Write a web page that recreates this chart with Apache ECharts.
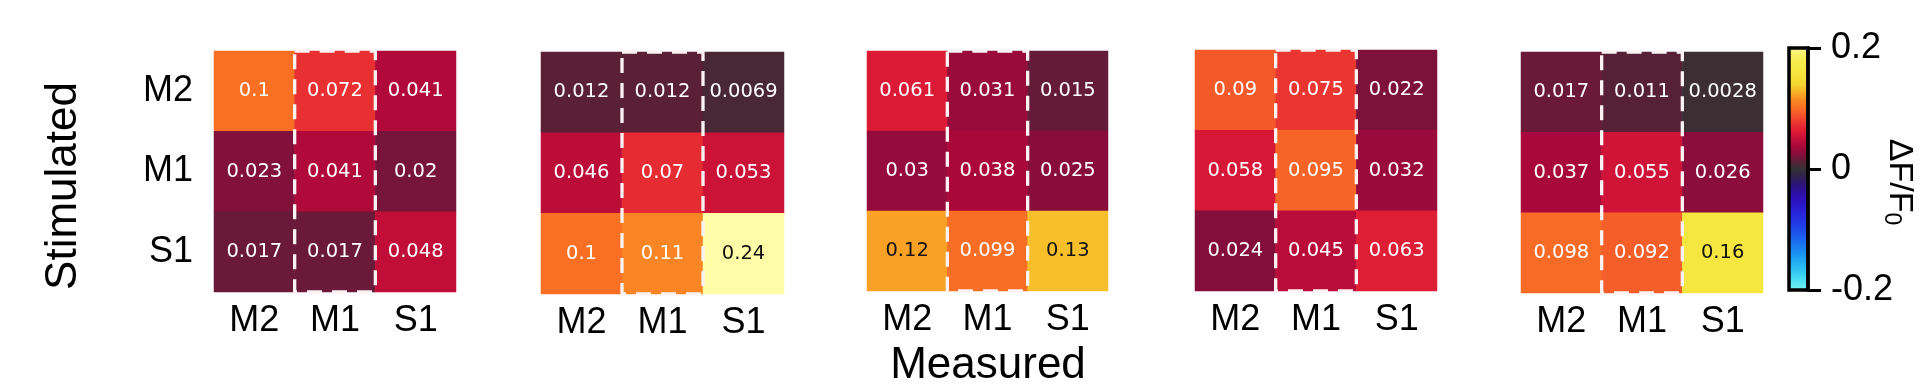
<!DOCTYPE html>
<html><head><meta charset="utf-8">
<script src="https://cdn.jsdelivr.net/npm/echarts/dist/echarts.min.js"></script>
<style>html,body{margin:0;padding:0;background:#fff}#c{width:1920px;height:391px}</style>
</head><body><div id="c"></div>
<script>
// ---- data ----
const measuredLabels = ['M2', 'M1', 'S1'];
const stimulatedLabels = ['M2', 'M1', 'S1'];
// rows = stimulated (M2, M1, S1), cols = measured (M2, M1, S1)
const panel1 = [[0.1, 0.072, 0.041], [0.023, 0.041, 0.02], [0.017, 0.017, 0.048]];
const panel2 = [[0.012, 0.012, 0.0069], [0.046, 0.07, 0.053], [0.1, 0.11, 0.24]];
const panel3 = [[0.061, 0.031, 0.015], [0.03, 0.038, 0.025], [0.12, 0.099, 0.13]];
const panel4 = [[0.09, 0.075, 0.022], [0.058, 0.095, 0.032], [0.024, 0.045, 0.063]];
const panel5 = [[0.017, 0.011, 0.0028], [0.037, 0.055, 0.026], [0.098, 0.092, 0.16]];
const panels = [panel1, panel2, panel3, panel4, panel5];
const outlinedColumn = 'M1';
const colorMin = -0.2, colorMax = 0.2, colorTickStep = 0.2;
const colorbarTitle = 'ΔF/F';
const colorbarSub = '0';
const xTitle = 'Measured';
const yTitle = 'Stimulated';
// ---- style ----
const cmap = [
  '#7ef6f6', '#5ce8f4', '#40d4f2', '#2ec0f2', '#22aaf2', '#1a92f2', '#1a7af0', '#1c62ee',
  '#1e4cea', '#2238e4', '#2628dc', '#2a1ad0', '#2c12bc', '#2c10a0', '#2c1478', '#302250',
  '#333333',
  '#5b1f36', '#880d3b', '#a9083b', '#c50f38', '#df1c35', '#eb3530', '#f3532b', '#f97025',
  '#fa8a24', '#f8b025', '#f5d530', '#f5df38', '#f5e842', '#f6ec4c', '#f8f068', '#fffca8'
];
const gridBoxes = [
  { left: 214, top: 51, width: 242, height: 241 },
  { left: 541, top: 52, width: 243, height: 242 },
  { left: 867, top: 51, width: 241, height: 240 },
  { left: 1195, top: 50, width: 242, height: 241 },
  { left: 1521, top: 52, width: 242, height: 241 }
];
const LABEL_FONT = '"Liberation Sans", Arial, sans-serif';
const CELL_FONT = '"DejaVu Sans", sans-serif';
const darkTextFrom = 0.115;

const chart = echarts.init(document.getElementById('c'), null, { renderer: 'canvas' });

const grids = [], xAxes = [], yAxes = [], series = [];
gridBoxes.forEach((g, i) => {
  grids.push(Object.assign({ containLabel: false }, g));
  xAxes.push({
    type: 'category', gridIndex: i, data: measuredLabels, position: 'bottom',
    axisLine: { show: false }, axisTick: { show: false }, splitLine: { show: false },
    axisLabel: { fontSize: 36, color: '#000', fontFamily: LABEL_FONT, margin: 11 }
  });
  yAxes.push({
    type: 'category', gridIndex: i, data: stimulatedLabels, inverse: true,
    axisLine: { show: false }, axisTick: { show: false }, splitLine: { show: false },
    axisLabel: { show: i === 0, fontSize: 36, color: '#000', fontFamily: LABEL_FONT, margin: 21, padding: [6, 0, 0, 0] }
  });
  const items = [];
  panels[i].forEach((row, r) => row.forEach((v, c) => {
    items.push({ value: [c, r, v], label: { color: v >= darkTextFrom ? '#111111' : '#ffffff' } });
  }));
  series.push({
    type: 'heatmap', xAxisIndex: i, yAxisIndex: i, data: items,
    label: { show: true, fontSize: 19.5, fontFamily: CELL_FONT, formatter: p => String(p.value[2]) },
    itemStyle: { borderWidth: 0 },
    emphasis: { disabled: true }, silent: true
  });
});
gridBoxes.forEach((g, i) => {
  series.push({
    type: 'custom', xAxisIndex: i, yAxisIndex: i, silent: true, z: 10,
    data: [[outlinedColumn, stimulatedLabels[0]]],
    renderItem: (params, api) => {
      const c = api.coord([api.value(0), api.value(1)]);
      const s = api.size([1, 1]);
      return {
        type: 'rect',
        shape: { x: c[0] - s[0] / 2, y: c[1] - s[1] / 2, width: s[0], height: s[1] * stimulatedLabels.length },
        style: { fill: 'none', stroke: '#fbf3f3', lineWidth: 3.3, lineDash: [15, 10] }
      };
    }
  });
});

// colorbar grid
const cbStops = cmap.map((col, k) => ({ offset: 1 - k / (cmap.length - 1), color: col })).reverse();
grids.push({
  left: 1789, top: 48, width: 19, height: 242, show: true,
  borderColor: '#000', borderWidth: 3.5,
  backgroundColor: new echarts.graphic.LinearGradient(0, 0, 0, 1, cbStops)
});
xAxes.push({ type: 'value', gridIndex: 5, show: false, min: 0, max: 1 });
yAxes.push({
  type: 'value', gridIndex: 5, position: 'right', min: colorMin, max: colorMax, interval: colorTickStep,
  axisLine: { show: true, onZero: false, lineStyle: { color: '#000', width: 3.5 } }, splitLine: { show: false },
  axisTick: { show: true, inside: false, length: 13, lineStyle: { color: '#000', width: 3 } },
  axisLabel: { fontSize: 36, color: '#000', fontFamily: LABEL_FONT, margin: 23 }
});

const option = {
  animation: false,
  backgroundColor: '#ffffff',
  grid: grids, xAxis: xAxes, yAxis: yAxes,
  visualMap: {
    type: 'continuous', show: false, min: colorMin, max: colorMax,
    seriesIndex: [0, 1, 2, 3, 4], dimension: 2,
    inRange: { color: cmap }
  },
  series: series,
  graphic: [
    { type: 'text', x: 64, y: 186, rotation: Math.PI / 2,
      style: { text: yTitle, font: '44px ' + LABEL_FONT, fill: '#000', align: 'center', verticalAlign: 'middle' } },
    { type: 'text', x: 988, y: 366,
      style: { text: xTitle, font: '44px ' + LABEL_FONT, fill: '#000', align: 'center', verticalAlign: 'middle' } },
    { type: 'text', x: 1899, y: 182, rotation: -Math.PI / 2,
      style: { text: '{a|' + colorbarTitle + '}{b|' + colorbarSub + '}', fill: '#000', align: 'center', verticalAlign: 'middle',
        rich: { a: { fontSize: 34, fontFamily: LABEL_FONT, fill: '#000' }, b: { fontSize: 23, fontFamily: LABEL_FONT, fill: '#000', padding: [16, 0, 0, 0] } } } }
  ]
};
chart.setOption(option);
</script>
</body></html>
